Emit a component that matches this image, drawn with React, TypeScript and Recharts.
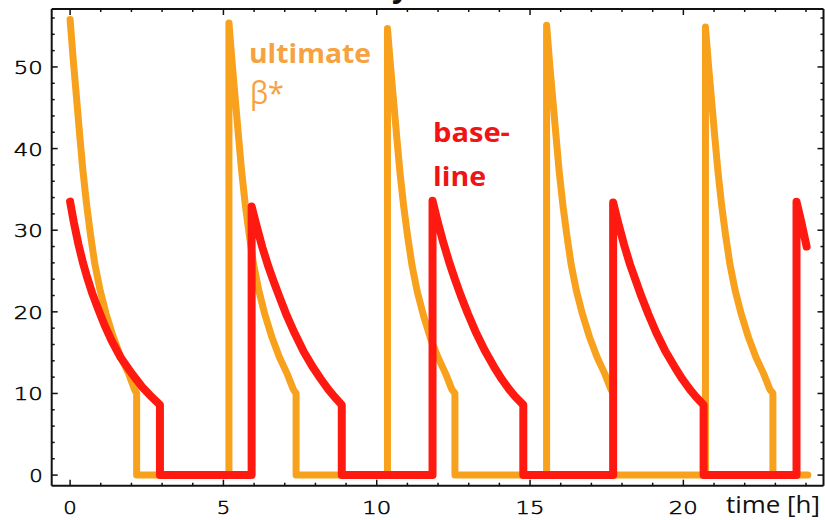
import React from "react";
import { LineChart, Line, XAxis, YAxis } from "recharts";

// tick positions and labelled ticks
const X_TICKS = [0, 1, 2, 3, 4, 5, 6, 7, 8, 9, 10, 11, 12, 13, 14, 15, 16, 17, 18, 19, 20, 21, 22, 23, 24];
const X_LABELS = [0, 5, 10, 15, 20];
const Y_TICKS = [0, 2, 4, 6, 8, 10, 12, 14, 16, 18, 20, 22, 24, 26, 28, 30, 32, 34, 36, 38, 40, 42, 44, 46, 48, 50, 52, 54, 56];
const Y_LABELS = [0, 10, 20, 30, 40, 50];

// "ultimate beta*" fills, [time h, value]
const ORANGE_1 = [
  [0, 55.8], [0.1, 51], [0.21, 46.2], [0.31, 41.8], [0.41, 37.6], [0.53, 33.4], [0.66, 29.6], [0.8, 26],
  [0.97, 22.8], [1.17, 19.8], [1.4, 17], [1.65, 14.5], [1.9, 12.5], [2.1, 10.5], [2.17, 10], [2.17, 0],
];
const ORANGE_2 = [
  [5.18, 0], [5.18, 55.4], [5.28, 50.7], [5.39, 45.9], [5.49, 41.6], [5.59, 37.4], [5.71, 33.2], [5.84, 29.5],
  [5.98, 25.9], [6.15, 22.7], [6.35, 19.7], [6.58, 16.9], [6.83, 14.4], [7.08, 12.4], [7.28, 10.5], [7.37, 10], [7.37, 0],
];
const ORANGE_3 = [
  [10.35, 0], [10.35, 54.7], [10.45, 50.1], [10.56, 45.4], [10.66, 41.1], [10.76, 37], [10.88, 32.9], [11.01, 29.2],
  [11.15, 25.7], [11.32, 22.5], [11.52, 19.6], [11.75, 16.8], [12, 14.4], [12.25, 12.4], [12.45, 10.5], [12.55, 10], [12.55, 0],
];
const ORANGE_4 = [
  [15.54, 0], [15.54, 55.1], [15.64, 50.4], [15.75, 45.7], [15.85, 41.4], [15.95, 37.2], [16.07, 33.1], [16.2, 29.4],
  [16.34, 25.8], [16.51, 22.6], [16.71, 19.7], [16.94, 16.9], [17.19, 14.4], [17.44, 12.4], [17.64, 10.5], [17.72, 10], [17.72, 0],
];
const ORANGE_5 = [
  [20.72, 0], [20.72, 54.9], [20.82, 50.2], [20.93, 45.5], [21.03, 41.2], [21.13, 37.1], [21.25, 33], [21.38, 29.3],
  [21.52, 25.8], [21.69, 22.6], [21.89, 19.7], [22.12, 16.9], [22.37, 14.4], [22.62, 12.4], [22.82, 10.5], [22.92, 10], [22.92, 0],
  [24.06, 0],
];

// baseline fills
const RED_1 = [
  [0, 33.5], [0.12, 31], [0.27, 28.3], [0.42, 26], [0.55, 24.3], [0.72, 22.3], [0.92, 20.3], [1.12, 18.4],
  [1.35, 16.5], [1.65, 14.4], [2, 12.5], [2.35, 10.8], [2.6, 9.8], [2.93, 8.6], [2.93, 0], [5.92, 0],
];
const RED_2 = [
  [5.92, 32.9], [6.07, 30.7], [6.27, 27.9], [6.47, 25.5], [6.64, 23.7], [6.84, 21.7], [7.07, 19.5], [7.32, 17.4],
  [7.62, 15.1], [7.92, 13.2], [8.17, 11.8], [8.42, 10.5], [8.62, 9.6], [8.86, 8.6], [8.86, 0], [11.82, 0],
];
const RED_3 = [
  [11.82, 33.6], [11.97, 31.3], [12.17, 28.5], [12.37, 26], [12.54, 24.1], [12.74, 22], [12.97, 19.8], [13.22, 17.6],
  [13.52, 15.3], [13.82, 13.3], [14.07, 11.8], [14.32, 10.5], [14.52, 9.6], [14.78, 8.6], [14.78, 0], [17.71, 0],
];
const RED_4 = [
  [17.71, 33.4], [17.86, 31.1], [18.06, 28.3], [18.26, 25.8], [18.43, 24], [18.63, 21.9], [18.86, 19.7], [19.11, 17.5],
  [19.41, 15.2], [19.71, 13.3], [19.96, 11.8], [20.21, 10.5], [20.41, 9.6], [20.66, 8.6], [20.66, 0], [23.69, 0],
];
const RED_5 = [[23.69, 33.5], [23.84, 31.1], [24.02, 28]];

const toPoints = (...cycles: number[][][]) => cycles.flat().map(([t, v]) => ({ t, v }));
const orangeData = toPoints(ORANGE_1, ORANGE_2, ORANGE_3, ORANGE_4, ORANGE_5);
const redData = toPoints(RED_1, RED_2, RED_3, RED_4, RED_5);

const ORANGE = "#F8A11D";
const RED = "#FE1A10";
const INK = "#111";
const NUM_FONT = "'DejaVu Sans', sans-serif";

const label = (v: number, x: number, y: number, anchor: string) => {
  const s = String(v);
  return (
    <text x={x} y={y} textAnchor={anchor} fontFamily={NUM_FONT} fontWeight={200} fontSize={18} fill="#000"
      stroke="#000" strokeWidth={0.5} textLength={s.length * 15.5 - 2} lengthAdjust="spacingAndGlyphs">
      {s}
    </text>
  );
};

// inward ticks on every side, labels only on the left/bottom majors
function AxisTick({ x, y, payload, side }: any) {
  const v = payload.value;
  const major = (side === "left" || side === "right" ? Y_LABELS : X_LABELS).includes(v);
  const len = major ? 6 : 3;
  if (side === "bottom")
    return (
      <g>
        <line x1={x} x2={x} y1={y} y2={y - len} stroke={INK} strokeWidth={1.5} />
        {major && label(v, x, y + 28, "middle")}
      </g>
    );
  if (side === "top") return <line x1={x} x2={x} y1={y} y2={y + len} stroke={INK} strokeWidth={1.5} />;
  if (side === "left")
    return (
      <g>
        <line x1={x} x2={x + len} y1={y} y2={y} stroke={INK} strokeWidth={1.5} />
        {major && label(v, x - 9, y + 7, "end")}
      </g>
    );
  return <line x1={x} x2={x - len} y1={y} y2={y} stroke={INK} strokeWidth={1.5} />;
}

const X_DOMAIN = [-0.6, 24.57];
const Y_DOMAIN = [-1.3, 57.1];
const axisLine = { stroke: INK, strokeWidth: 2 };

export default function App() {
  return (
    <div style={{ position: "absolute", left: 0, top: 0, width: 825, height: 520, background: "#fff", overflow: "hidden" }}>
      <LineChart width={825} height={520} margin={{ top: 8, right: 0.5, bottom: 0, left: 0 }}>
        <XAxis xAxisId="b" dataKey="t" type="number" domain={X_DOMAIN} allowDataOverflow ticks={X_TICKS}
          interval={0} height={34.3} tickLine={false} tickSize={0} tickMargin={0} axisLine={axisLine}
          tick={(p: any) => <AxisTick {...p} side="bottom" />} />
        <XAxis xAxisId="top" orientation="top" dataKey="t" type="number" domain={X_DOMAIN} allowDataOverflow
          ticks={X_TICKS} interval={0} height={1} tickLine={false} tickSize={0} tickMargin={0} axisLine={axisLine}
          tick={(p: any) => <AxisTick {...p} side="top" />} />
        <YAxis yAxisId="l" type="number" domain={Y_DOMAIN} allowDataOverflow ticks={Y_TICKS} interval={0}
          width={51.7} tickLine={false} tickSize={0} tickMargin={0} axisLine={axisLine}
          tick={(p: any) => <AxisTick {...p} side="left" />} />
        <YAxis yAxisId="r" orientation="right" type="number" domain={Y_DOMAIN} allowDataOverflow ticks={Y_TICKS}
          interval={0} width={1} tickLine={false} tickSize={0} tickMargin={0} axisLine={axisLine}
          tick={(p: any) => <AxisTick {...p} side="right" />} />
        {/* invisible copy so the frame axes (top/right) have a series bound to them */}
        <Line xAxisId="top" yAxisId="r" data={orangeData} dataKey="v" type="linear" stroke="none" strokeWidth={0}
          dot={false} activeDot={false} isAnimationActive={false} legendType="none" />
        <Line xAxisId="b" yAxisId="l" data={orangeData} dataKey="v" type="linear" stroke={ORANGE} strokeWidth={7}
          strokeLinecap="round" strokeLinejoin="round" dot={false} activeDot={false} isAnimationActive={false} />
        <Line xAxisId="b" yAxisId="l" data={redData} dataKey="v" type="linear" stroke={RED} strokeWidth={8}
          strokeLinecap="round" strokeLinejoin="round" dot={false} activeDot={false} isAnimationActive={false} />
      </LineChart>
      <svg width={825} height={520} style={{ position: "absolute", left: 0, top: 0, pointerEvents: "none" }}>
        <text x={392} y={-3} fontFamily="'Open Sans', sans-serif" fontWeight={700} fontSize={30} fill={INK}>y</text>
        <g fontFamily="'Open Sans', sans-serif" fontSize={27}>
          <text x={249} y={63} fill="#F6A23F" fontWeight={700} textLength={122} lengthAdjust="spacingAndGlyphs">ultimate</text>
          <text x={250} y={104} fill="#F6A23F" fontSize={31} textLength={34} lengthAdjust="spacingAndGlyphs">β*</text>
          <text x={433} y={141.5} fill="#F01414" fontWeight={700} textLength={77} lengthAdjust="spacingAndGlyphs">base-</text>
          <text x={433} y={186} fill="#F01414" fontWeight={700} textLength={53} lengthAdjust="spacingAndGlyphs">line</text>
        </g>
        <text x={726} y={513} fontFamily="'Open Sans', sans-serif" fontSize={24} fill={INK}
          textLength={94} lengthAdjust="spacingAndGlyphs">time [h]</text>
      </svg>
    </div>
  );
}
